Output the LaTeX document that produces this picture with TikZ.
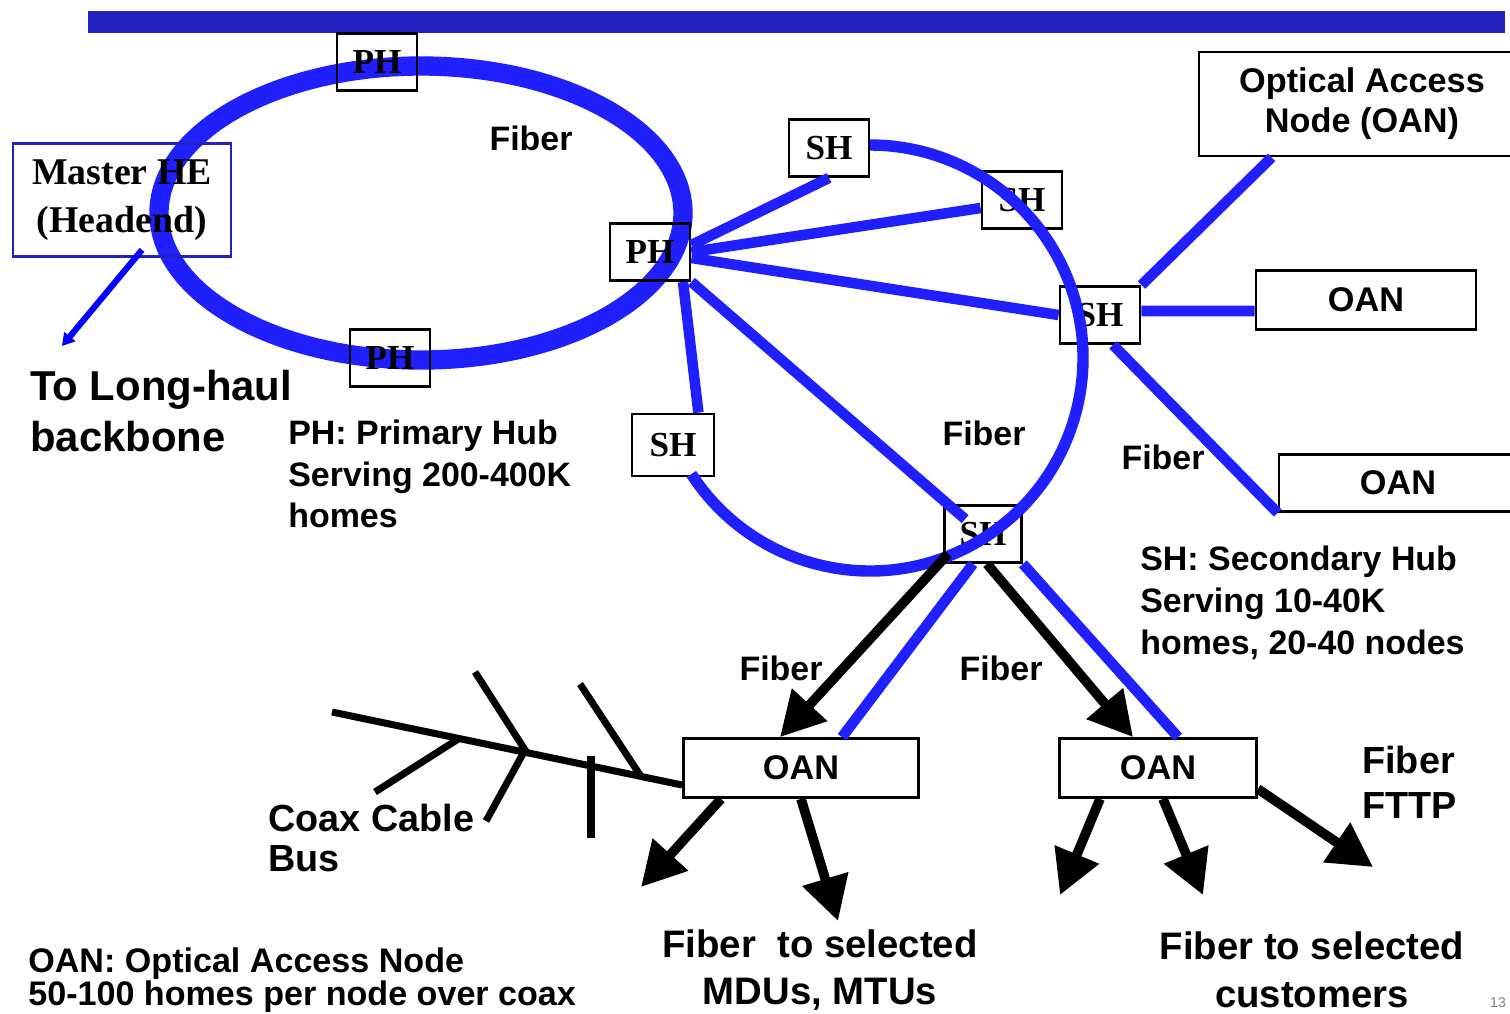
\documentclass[tikz,border=0pt]{standalone}
\usepackage{fontspec}
\setmainfont{Liberation Sans}
\newfontfamily\hubserif{Liberation Serif}
\usetikzlibrary{arrows.meta}
\definecolor{fiberblue}{RGB}{32,32,255}
\definecolor{barblue}{RGB}{34,34,190}

\begin{document}
\begin{tikzpicture}[
          hubnode/.style={rectangle, draw=black, line width=1.6pt, inner sep=0pt, minimum width=1.6cm, minimum height=1.14cm, font=\hubserif\bfseries\fontsize{20}{24}\selectfont},
          oannode/.style={rectangle, draw=black, line width=1.6pt, inner sep=0pt, minimum height=1.18cm, align=center, font=\bfseries\fontsize{19.5}{22.7}\selectfont},
          lbl/.style={inner sep=0pt, align=left, font=\bfseries\fontsize{19.3}{23.8}\selectfont},
          biglbl/.style={inner sep=0pt, align=left, font=\bfseries\fontsize{21.8}{27}\selectfont},
          fiber/.style={draw=fiberblue, line width=6pt},
          feed/.style={draw=black, line width=5.5pt, -{Triangle[length=25pt,width=26pt]}},
          coax/.style={draw=black, line width=4pt}
        ]

        \useasboundingbox (0,0) rectangle (30.2,-20.26);
        \clip (0,0) rectangle (30.2,-20.26);

        % ----------------------------------------------------
        % BACKBONE BAR + PRIMARY HUB RING
        % ----------------------------------------------------
        \fill[barblue] (1.76,-0.22) rectangle (30.1,-0.66);
        \draw[fiberblue, line width=11pt] (8.42,-4.26) ellipse [x radius=5.24cm, y radius=2.94cm];

        \node at (2.44,-4.0) [draw=barblue, line width=1.6pt, minimum width=4.36cm, minimum height=2.26cm, inner sep=0pt, align=center, font=\hubserif\bfseries\fontsize{21.5}{27}\selectfont] (MHE) {Master HE\\(Headend)};
        \coordinate (toLH) at (1.24,-6.92);
        \draw[blue, line width=3.5pt, -{Triangle[length=7pt,width=8pt]}] ([xshift=0.4cm,yshift=0.16cm]MHE.south) -- (toLH);

        \node at (7.54,-1.24) [hubnode] (PHt) {PH};
        \node at (7.8,-7.16) [hubnode] (PHb) {PH};
        \node at (13.0,-5.04) [hubnode] (PHr) {PH};

        % ----------------------------------------------------
        % SECONDARY HUBS
        % ----------------------------------------------------
        \node at (16.58,-2.96) [hubnode] (SHt) {SH};
        \node at (20.44,-4.0) [hubnode] (SHm) {SH};
        \node at (22.0,-6.3) [hubnode] (SHr) {SH};
        \node at (13.46,-8.9) [hubnode, minimum width=1.64cm, minimum height=1.24cm] (SHl) {SH};
        \node at (19.66,-10.68) [hubnode, minimum width=1.54cm] (SHb) {SH};

        \draw[fiber, line width=6.5pt] (17.4,-7.16) ++(213:4.26cm) arc[start angle=213, end angle=450, radius=4.26cm];

        \draw[fiber] ([yshift=0.14cm]PHr.east) -- (SHt.south);
        \draw[fiber] (PHr.east) -- ([yshift=-0.16cm]SHm.west);
        \draw[fiber] ([yshift=-0.12cm]PHr.east) -- (SHr.west);
        \draw[fiber] ([xshift=0.66cm]PHr.south) -- ([xshift=-0.34cm]SHl.north east);
        \draw[fiber] (PHr.south east) -- ([xshift=0.44cm,yshift=-0.3cm]SHb.north west);

        % ----------------------------------------------------
        % OPTICAL ACCESS NODES
        % ----------------------------------------------------
        \node at (27.24,-2.08) [oannode, minimum width=6.52cm, minimum height=2.08cm] (OANa) {Optical Access\\Node (OAN)};
        \node at (27.32,-6.0) [oannode, minimum width=4.4cm] (OANb) {OAN};
        \node at (27.96,-9.66) [oannode, minimum width=4.76cm, minimum height=1.14cm] (OANc) {OAN};
        \node at (16.02,-15.36) [oannode, minimum width=4.7cm] (OANl) {OAN};
        \node at (23.16,-15.36) [oannode, minimum width=3.94cm] (OANr) {OAN};

        \draw[fiber] (SHr.north east) -- ([xshift=1.48cm]OANa.south west);
        \draw[fiber] ([yshift=0.08cm]SHr.east) -- ([yshift=-0.22cm]OANb.west);
        \draw[fiber] ([xshift=0.26cm]SHr.south) -- (OANc.south west);

        \draw[feed] ([xshift=0.1cm,yshift=0.2cm]SHb.south west) -- ([xshift=-0.42cm]OANl.north);
        \draw[feed] ([xshift=0.08cm]SHb.south) -- ([xshift=-0.5cm]OANr.north);
        \draw[fiber] ([xshift=-0.2cm]SHb.south) -- ([xshift=0.82cm]OANl.north);
        \draw[fiber] (SHb.south east) -- ([xshift=0.4cm]OANr.north);

        % ----------------------------------------------------
        % DROPS + COAX BUS
        % ----------------------------------------------------
        \coordinate (dropA) at (12.82,-17.74);
        \coordinate (dropB) at (16.76,-18.42);
        \coordinate (dropC) at (21.2,-17.9);
        \coordinate (dropD) at (24.06,-17.9);
        \coordinate (dropE) at (27.46,-17.34);
        \draw[feed] ([xshift=-1.6cm]OANl.south) -- (dropA);
        \draw[feed] (OANl.south) -- (dropB);
        \draw[feed] ([xshift=-1.16cm]OANr.south) -- (dropC);
        \draw[feed] ([xshift=0.1cm]OANr.south) -- (dropD);
        \draw[feed] ([yshift=0.2cm]OANr.south east) -- (dropE);

        \coordinate (busEnd) at (6.64,-14.24);
        \draw[coax] (busEnd) -- ([yshift=-0.34cm]OANl.west);
        \draw[coax] (9.18,-14.77) -- (7.5,-15.84);
        \draw[coax] (9.5,-13.44) -- (10.5,-15.0) -- (9.72,-16.42);
        \draw[coax] (11.6,-13.68) -- (12.8,-15.5);
        \draw[coax] (11.82,-15.12) -- (11.82,-16.76);

        % ----------------------------------------------------
        % LABELS
        % ----------------------------------------------------
        \node at (10.62,-2.76) [lbl] (fibRing) {Fiber};
        \node at (19.68,-8.66) [lbl] (fibSH) {Fiber};
        \node at (23.26,-9.14) [lbl] (fibRight) {Fiber};
        \node at (15.62,-13.36) [lbl] (fibLeft) {Fiber};
        \node at (20.02,-13.36) [lbl] (fibMid) {Fiber};
        \node at (0.6,-8.22) [anchor=west, inner sep=0pt, align=left, font=\bfseries\fontsize{23.8}{29.5}\selectfont] (longHaul) {To Long-haul\\backbone};
        \node at (5.76,-9.48) [lbl, anchor=west] (phNote) {PH: Primary Hub\\Serving 200-400K\\homes};
        \node at (22.8,-12.06) [lbl, anchor=west] (shNote) {SH: Secondary Hub\\Serving 10-40K\\homes, 20-40 nodes};
        \node at (27.24,-15.64) [biglbl, anchor=west, font=\bfseries\fontsize{21.5}{25.5}\selectfont] (fttp) {Fiber\\FTTP};
        \node at (5.36,-16.76) [biglbl, anchor=west, font=\bfseries\fontsize{21.5}{22.7}\selectfont] (coaxNote) {Coax Cable\\Bus};
        \node at (16.4,-19.4) [biglbl, align=center] (mduNote) {Fiber\ \ to selected\\MDUs, MTUs};
        \node at (26.24,-19.4) [biglbl, align=center] (custNote) {Fiber to selected\\customers};
        \node at (0.56,-19.6) [lbl, anchor=west, font=\bfseries\fontsize{19.4}{18.7}\selectfont] (oanNote) {OAN: Optical Access Node\\50-100 homes per node over coax};
        \node at (29.96,-20.06) [inner sep=0pt, text=gray, font=\fontsize{8}{9}\selectfont] (pageNo) {13};
      \end{tikzpicture}
\end{document}
